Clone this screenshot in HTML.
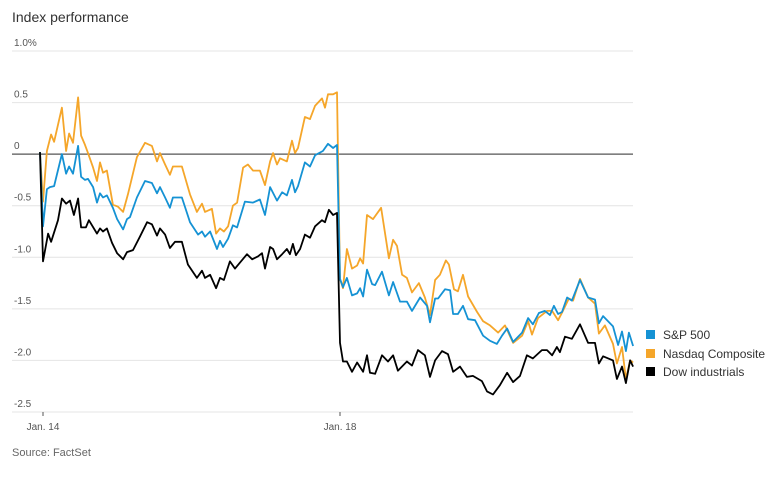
<!DOCTYPE html>
<html><head><meta charset="utf-8"><style>
body{margin:0;background:#fff;}
svg{display:block;font-family:"Liberation Sans",sans-serif;}
</style></head><body>
<svg id="chart" width="782" height="478" viewBox="0 0 782 478" xmlns="http://www.w3.org/2000/svg">
<text x="12" y="22" font-size="14" fill="#333">Index performance</text>
<g id="grid"></g>
<g id="series"></g>
<g id="xaxis"></g>
<text x="12" y="456" font-size="11" fill="#666">Source: FactSet</text>
<g>
<g><rect x="646" y="330" width="9" height="9" fill="#1592d4"/><text x="663" y="339" font-size="12" fill="#333">S&amp;P 500</text></g>
<g><rect x="646" y="349" width="9" height="9" fill="#f5a62a"/><text x="663" y="358" font-size="12" fill="#333">Nasdaq Composite</text></g>
<g><rect x="646" y="367" width="9" height="9" fill="#000"/><text x="663" y="376" font-size="12" fill="#333">Dow industrials</text></g>
</g>
</svg>
<script>
// time in intervals: Jan. 14 open = 0, Jan. 18 open = 100
const yTicks = [1.0, 0.5, 0, -0.5, -1.0, -1.5, -2.0, -2.5];
const yTickLabels = ["1.0%", "0.5", "0", "-0.5", "-1.0", "-1.5", "-2.0", "-2.5"];
const xTickTimes = [1, 100];
const xTickLabels = ["Jan. 14", "Jan. 18"];

const spT = [0,1,2.3,3.3,4.7,7.3,8.7,9.7,11,12.7,13.7,15,16,17.7,19,20,21,22.3,24.3,25.7,27.7,29,30,32.3,35,37.3,39,40,41.7,43.3,44.3,47.3,50,52.7,54,55,56.7,59,60,61,62.7,64.3,65.7,68.3,71,73.3,75,76.7,79,80.7,82.3,84,85,86,88.3,90,91.7,94.3,96,97.7,99,100,101,102.3,104,105.7,106.7,107.7,109,110.7,111.7,114,116.3,117.7,120,122.3,124,126.7,129,130,131.7,132.7,135,136.7,137.7,139.3,141,142.7,145,147.7,150,152.3,154,155.7,157.7,160.7,162.7,164.3,166.3,168.3,170,171.3,172.7,174,175.7,177.3,180,182.7,185,186.3,187.7,191,192.7,194,195.3,196.3,197.7];
const spV = [0.02,-0.70,-0.34,-0.32,-0.31,0,-0.19,-0.12,-0.19,0.08,-0.22,-0.25,-0.24,-0.32,-0.47,-0.38,-0.42,-0.40,-0.52,-0.63,-0.73,-0.63,-0.61,-0.42,-0.26,-0.28,-0.38,-0.32,-0.42,-0.52,-0.42,-0.42,-0.66,-0.78,-0.75,-0.80,-0.75,-0.92,-0.84,-0.90,-0.82,-0.69,-0.71,-0.46,-0.47,-0.44,-0.59,-0.32,-0.45,-0.37,-0.40,-0.25,-0.37,-0.31,-0.08,-0.12,-0.01,0.03,0.10,0.06,0.09,-1.21,-1.29,-1.20,-1.37,-1.35,-1.30,-1.38,-1.12,-1.26,-1.27,-1.14,-1.37,-1.24,-1.43,-1.43,-1.52,-1.39,-1.47,-1.63,-1.40,-1.40,-1.31,-1.32,-1.55,-1.55,-1.47,-1.60,-1.61,-1.76,-1.81,-1.84,-1.76,-1.69,-1.82,-1.73,-1.59,-1.65,-1.54,-1.52,-1.56,-1.47,-1.55,-1.53,-1.39,-1.42,-1.22,-1.39,-1.41,-1.64,-1.57,-1.67,-1.85,-1.72,-1.91,-1.73,-1.86];

const ndT = [0,1,2.3,3.7,4.7,7.3,8.7,9.7,11,12.7,13.7,15,16,17.7,19,20,21,22.3,24.3,26,27.7,29.3,32.3,35,37.3,39,40,41.7,43.3,44.3,47.3,50,52.3,54,55,57.3,58.7,60,61.3,62.7,64.3,65.7,67.7,69.3,71,73.3,75,76.7,77.7,79,80,82.3,84,85,86,88.3,90,91.7,94,95,96,97.7,99,100,101,102.3,104,105.7,106.7,107.7,109,111,113.7,116.3,117.7,119,120.7,122.3,124,126.3,128.3,130,131.7,133.3,135.3,136.3,138,139.3,141,142.7,145.7,147.7,150,152.7,155,157.7,160.7,162.7,164,166,169,170.7,172.7,174.3,176.3,177.7,180,182.7,185,186.3,188.3,191,192.3,194,195.3,196.7,197.7];
const ndV = [0.02,-0.46,0.03,0.19,0.12,0.45,0.03,0.20,0.11,0.55,0.18,0.09,0.01,-0.13,-0.26,-0.08,-0.18,-0.16,-0.49,-0.51,-0.56,-0.39,-0.03,0.11,0.08,-0.07,0.01,-0.10,-0.20,-0.12,-0.12,-0.39,-0.56,-0.48,-0.56,-0.53,-0.77,-0.72,-0.75,-0.70,-0.50,-0.47,-0.13,-0.10,-0.16,-0.16,-0.30,-0.07,0.01,-0.10,-0.04,-0.07,0.13,0.01,0.06,0.36,0.34,0.47,0.54,0.45,0.58,0.58,0.60,-1.21,-1.30,-0.92,-1.11,-1.08,-1.01,-1.06,-0.59,-0.63,-0.52,-1.01,-0.83,-0.89,-1.17,-1.20,-1.34,-1.25,-1.39,-1.56,-1.22,-1.17,-1.03,-1.07,-1.31,-1.33,-1.17,-1.38,-1.53,-1.62,-1.66,-1.73,-1.66,-1.83,-1.76,-1.62,-1.75,-1.59,-1.52,-1.52,-1.61,-1.52,-1.40,-1.42,-1.21,-1.39,-1.45,-1.74,-1.66,-1.84,-2.03,-1.87,-2.18,-2.00,-2.02];

const dwT = [0,1,2.7,3.7,6,7.3,8.7,10,11.3,12.7,13.7,15.3,16.3,19,20,21,22.3,24,25.7,27.7,29,31,33.3,35.7,37.3,39,40,41.7,43.3,45,47.3,49.3,52.3,54,55,56.7,58.7,60,61.3,63.3,65,66.7,69,70.7,72.7,74,75,76.7,77.7,79,80.7,82.3,83.3,84.3,85.3,86.7,88.3,90,91.7,94,95,96.3,97.7,99,100,101,102.3,104,105.7,107.7,109,110,111.7,114,116,117.7,119.3,122.3,124,126,128.3,130,131.7,134,136,137.7,140,142.3,144.3,147.3,149,151,153.3,155.7,157.7,160,162.3,164.3,167.3,169,170.7,172.3,173.3,175,177.3,180,182.7,185,186.3,187.7,191,192.3,194,195.3,196.7,197.7];
const dwV = [0.02,-1.04,-0.77,-0.85,-0.64,-0.43,-0.48,-0.45,-0.59,-0.43,-0.71,-0.71,-0.64,-0.77,-0.72,-0.75,-0.72,-0.86,-0.96,-1.02,-0.95,-0.93,-0.80,-0.66,-0.68,-0.79,-0.72,-0.78,-0.91,-0.85,-0.85,-1.07,-1.20,-1.13,-1.20,-1.17,-1.30,-1.20,-1.22,-1.04,-1.11,-1.05,-0.97,-1.02,-0.99,-0.96,-1.11,-0.90,-0.92,-1.02,-0.97,-0.92,-0.97,-0.87,-0.98,-0.92,-0.78,-0.81,-0.70,-0.64,-0.66,-0.54,-0.59,-0.57,-1.83,-2.01,-2.01,-2.11,-2.02,-2.11,-1.95,-2.12,-2.13,-1.95,-2.01,-1.95,-2.10,-2.01,-2.05,-1.90,-1.95,-2.16,-2.00,-1.91,-1.94,-2.11,-2.06,-2.16,-2.15,-2.20,-2.30,-2.33,-2.24,-2.12,-2.21,-2.15,-1.95,-1.98,-1.90,-1.90,-1.95,-1.87,-1.92,-1.77,-1.79,-1.65,-1.83,-1.83,-2.03,-1.96,-2.00,-2.18,-2.06,-2.22,-2.00,-2.06];

const NS = "http://www.w3.org/2000/svg";
const X0 = 40, X1 = 634, T0 = 0, T1 = 198;
const Y0 = 412, Y1 = 51, V0 = -2.5, V1 = 1.0;
function xScale(t){ return X0 + (t - T0) / (T1 - T0) * (X1 - X0); }
function yScale(v){ return Y0 + (v - V0) / (V1 - V0) * (Y1 - Y0); }

const grid = document.getElementById('grid');
yTicks.forEach((v, i) => {
  const y = yScale(v);
  const ln = document.createElementNS(NS, 'line');
  ln.setAttribute('x1', 12); ln.setAttribute('x2', 633);
  ln.setAttribute('y1', y); ln.setAttribute('y2', y);
  ln.setAttribute('stroke', v === 0 ? '#555' : '#e4e4e4');
  ln.setAttribute('stroke-width', v === 0 ? 1.2 : 1);
  
  
  grid.appendChild(ln);
  const tx = document.createElementNS(NS, 'text');
  tx.setAttribute('x', 14); tx.setAttribute('y', y - 5);
  tx.setAttribute('font-size', 10); tx.setAttribute('fill', '#555');
  tx.textContent = yTickLabels[i];
  
  
  grid.appendChild(tx);
});

const xa = document.getElementById('xaxis');
xTickTimes.forEach((t, i) => {
  const x = xScale(t);
  const tk = document.createElementNS(NS, 'line');
  tk.setAttribute('x1', x); tk.setAttribute('x2', x);
  tk.setAttribute('y1', 412); tk.setAttribute('y2', 416);
  tk.setAttribute('stroke', '#555');
  
  
  xa.appendChild(tk);
  const tx = document.createElementNS(NS, 'text');
  tx.setAttribute('x', x); tx.setAttribute('y', 430);
  tx.setAttribute('text-anchor', 'middle');
  tx.setAttribute('font-size', 10); tx.setAttribute('fill', '#555');
  tx.textContent = xTickLabels[i];
  
  
  xa.appendChild(tx);
});

const sg = document.getElementById('series');
function drawLine(ts, vs, color, name){
  const p = document.createElementNS(NS, 'path');
  let d = '';
  ts.forEach((t, i) => { d += (i ? 'L' : 'M') + xScale(t).toFixed(1) + ',' + yScale(vs[i]).toFixed(1); });
  p.setAttribute('d', d);
  p.setAttribute('fill', 'none');
  p.setAttribute('stroke', color);
  p.setAttribute('stroke-width', 1.8);
  p.setAttribute('stroke-linejoin', 'round');
  
  
  sg.appendChild(p);
}
drawLine(ndT, ndV, '#f5a62a', 'nasdaq-line');
drawLine(spT, spV, '#1592d4', 'sp500-line');
drawLine(dwT, dwV, '#000000', 'dow-line');
</script>
</body></html>
